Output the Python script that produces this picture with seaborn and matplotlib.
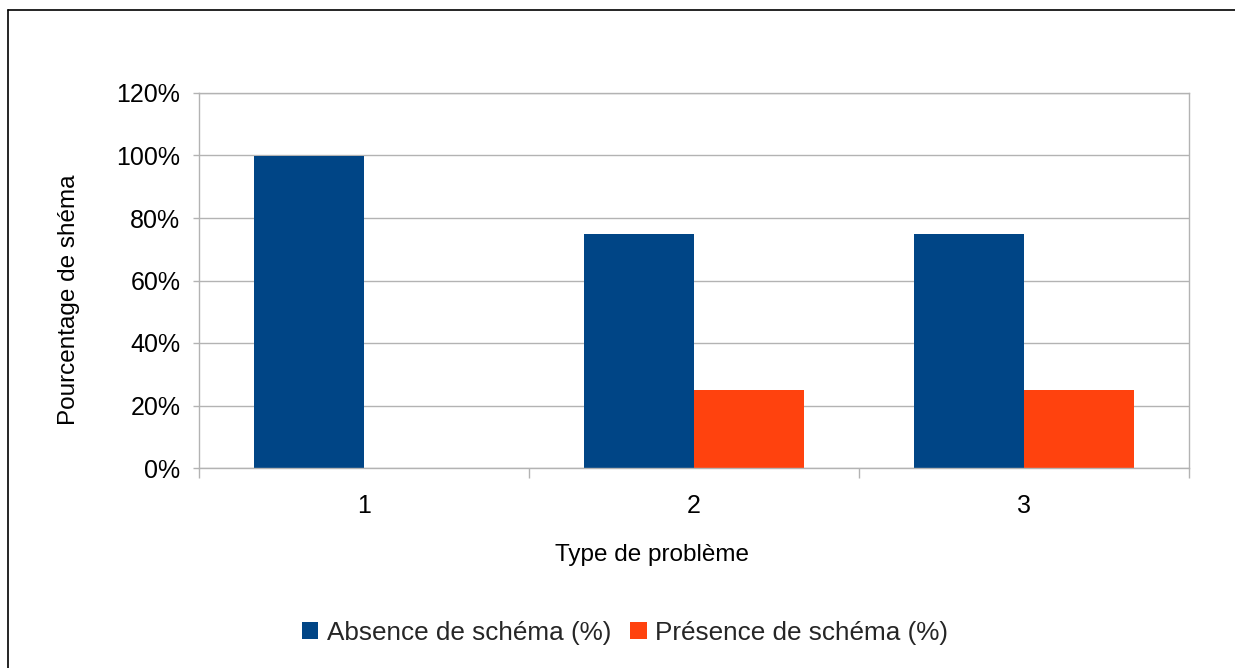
import matplotlib
matplotlib.use("Agg")
import matplotlib.pyplot as plt
import matplotlib.ticker as mticker
from matplotlib.lines import Line2D
from matplotlib.patches import Patch
import seaborn as sns
import pandas as pd

# Data
categories = ["1", "2", "3"]
absence = [1.00, 0.75, 0.75]
presence = [0.00, 0.25, 0.25]
series_names = ["Absence de schéma (%)", "Présence de schéma (%)"]
colors = ["#004586", "#FF420E"]

df = pd.DataFrame({
    "type": categories * 2,
    "valeur": absence + presence,
    "serie": [series_names[0]] * 3 + [series_names[1]] * 3,
})

sns.set_theme(style="white")
plt.rcParams["font.family"] = ["Liberation Sans", "DejaVu Sans"]

W, H = 1235, 668
fig = plt.figure(figsize=(W / 100, H / 100), dpi=100)
ax = fig.add_axes([199 / W, 1 - 468 / H, (1189 - 199) / W, (468 - 93) / H])

sns.barplot(data=df, x="type", y="valeur", hue="serie", palette=colors,
            width=2 / 3, saturation=1, ax=ax, legend=False, linewidth=0)

grid_c = "#b3b3b3"
ax.set_ylim(0, 1.2)
ax.set_xlim(-0.5, 2.5)
ax.yaxis.set_major_locator(mticker.MultipleLocator(0.2))
ax.yaxis.set_major_formatter(mticker.PercentFormatter(1.0, decimals=0))
ax.yaxis.grid(True, color=grid_c, linewidth=1)
ax.set_axisbelow(True)

# category boundary ticks on x, labels centred on categories
ax.set_xticks([-0.5, 0.5, 1.5, 2.5])
ax.set_xticklabels([])
ax.set_xticks([0, 1, 2], minor=True)
ax.set_xticklabels(categories, minor=True)
ax.tick_params(axis="x", which="major", length=7, width=1, color=grid_c, direction="out")
ax.tick_params(axis="x", which="minor", length=0, pad=19, labelsize=18, labelcolor="#000000")
ax.tick_params(axis="y", which="major", length=4.5, width=1, color=grid_c, direction="out",
               pad=9, labelsize=18, labelcolor="#000000")
ax.tick_params(bottom=True, left=True)

for s in ax.spines.values():
    s.set_color(grid_c)
    s.set_linewidth(1)

ax.set_xlabel("Type de problème", fontsize=17.5, color="#000000")
ax.set_ylabel("Pourcentage de shéma", fontsize=17.5, color="#000000")
ax.xaxis.set_label_coords((652 - 199) / 990, (468 - 555) / 375)
ax.xaxis.label.set_va("center")
ax.yaxis.set_label_coords((69 - 199) / 990, (468 - 299.5) / 375)
ax.yaxis.label.set_va("center")

handles = [Patch(facecolor=c, edgecolor="none") for c in colors]
fig.legend(handles, series_names, loc="center", bbox_to_anchor=(625 / W, 1 - 633 / H),
           ncol=2, frameon=False, fontsize=18.8, handlelength=0.62, handleheight=0.62,
           handletextpad=0.32, columnspacing=0.75, borderpad=0, borderaxespad=0)

# outer frame (left and top edges)
fig.add_artist(Line2D([7.5 / W, 7.5 / W], [0, 1 - 10 / H], transform=fig.transFigure,
                      color="black", linewidth=1.2))
fig.add_artist(Line2D([7.5 / W, 1], [1 - 10 / H, 1 - 10 / H], transform=fig.transFigure,
                      color="black", linewidth=1.2))

fig.savefig("out.png", dpi=100, facecolor="white")
